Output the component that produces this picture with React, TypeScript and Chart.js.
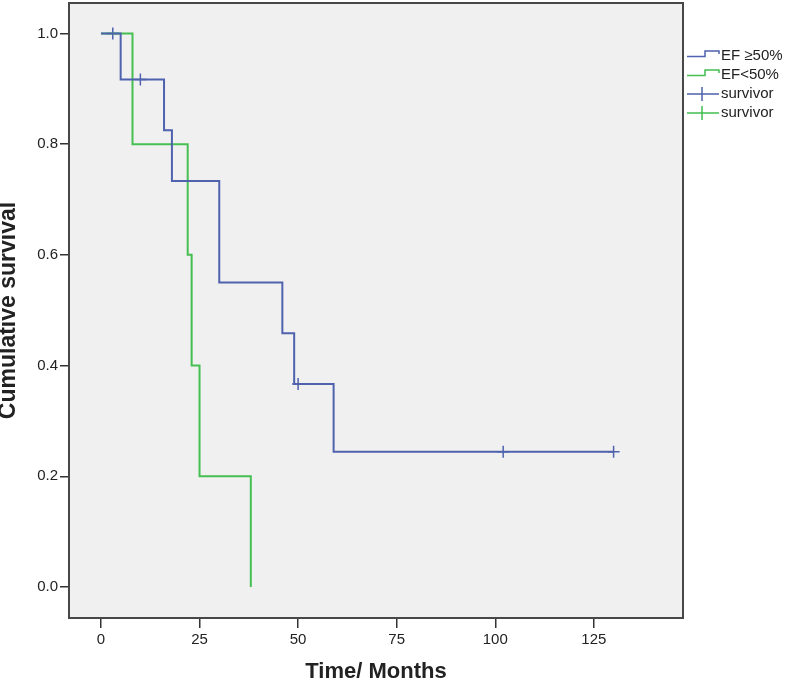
import React, { useEffect, useRef } from 'react';
import { Chart, registerables } from 'chart.js';

Chart.register(...registerables);

// ---- data ----
const seriesLabels = ['EF ≥50%', 'EF<50%'];
const censorLabels = ['survivor', 'survivor'];

const blueTimes = [0, 5, 16, 18, 30, 46, 49, 59, 130];
const blueSurv = [1, 0.9167, 0.825, 0.7333, 0.55, 0.4583, 0.3667, 0.2444, 0.2444];
const greenTimes = [0, 8, 22, 23, 25, 38];
const greenSurv = [1, 0.8, 0.6, 0.4, 0.2, 0];

const blueCensorTimes = [3, 10, 50, 102, 130];
const blueCensorSurv = [1, 0.9167, 0.3667, 0.2444, 0.2444];
const greenCensorTimes: number[] = [];
const greenCensorSurv: number[] = [];

const xTickStep = 25;
const yTickStep = 0.2;

const BLUE = '#4f62ae';
const GREEN = '#45bf51';

const pts = (xs: number[], ys: number[]) => xs.map((x, i) => ({ x, y: ys[i] }));

const framePlugin = {
  id: 'frameAndLegend',
  beforeDraw(chart: any) {
    const { ctx, chartArea: a } = chart;
    ctx.save();
    ctx.fillStyle = '#f0f0f0';
    ctx.fillRect(a.left, a.top, a.right - a.left, a.bottom - a.top);
    ctx.restore();
  },
  afterDraw(chart: any) {
    const { ctx, chartArea: a } = chart;
    ctx.save();
    ctx.strokeStyle = '#474747';
    ctx.lineWidth = 2;
    ctx.strokeRect(a.left, a.top, a.right - a.left, a.bottom - a.top);

    // legend
    const x0 = a.right + 4;
    let cy = 56;
    ctx.font = '15px "Liberation Sans", Arial, sans-serif';
    ctx.textBaseline = 'middle';
    ctx.textAlign = 'left';
    chart.data.datasets.forEach((ds: any) => {
      ctx.strokeStyle = ds.borderColor;
      ctx.lineWidth = 1.5;
      ctx.beginPath();
      if (ds.showLine === false) {
        ctx.moveTo(x0, cy);
        ctx.lineTo(x0 + 32, cy);
        ctx.moveTo(x0 + 15, cy - 7);
        ctx.lineTo(x0 + 15, cy + 7);
      } else {
        ctx.moveTo(x0, cy + 0.5);
        ctx.lineTo(x0 + 18, cy + 0.5);
        ctx.lineTo(x0 + 18, cy - 5);
        ctx.lineTo(x0 + 32, cy - 5);
        ctx.lineTo(x0 + 32, cy - 2);
      }
      ctx.stroke();
      ctx.fillStyle = '#222';
      ctx.fillText(ds.label, x0 + 34, cy);
      cy += 19;
    });
    ctx.restore();
  },
};

export default function App() {
  const ref = useRef<HTMLCanvasElement | null>(null);

  useEffect(() => {
    if (!ref.current) return;
    const tickFont = { family: '"Liberation Sans", Arial, sans-serif', size: 15 };
    const chart = new Chart(ref.current, {
      type: 'scatter',
      data: {
        datasets: [
          {
            label: seriesLabels[0],
            data: pts(blueTimes, blueSurv),
            showLine: true,
            stepped: 'before',
            borderColor: BLUE,
            borderWidth: 2,
            pointRadius: 0,
            fill: false,
          },
          {
            label: seriesLabels[1],
            data: pts(greenTimes, greenSurv),
            showLine: true,
            stepped: 'before',
            borderColor: GREEN,
            borderWidth: 2,
            pointRadius: 0,
            fill: false,
          },
          {
            label: censorLabels[0],
            data: pts(blueCensorTimes, blueCensorSurv),
            showLine: false,
            borderColor: BLUE,
            backgroundColor: BLUE,
            pointStyle: 'cross',
            pointRadius: 6,
            pointBorderWidth: 1.5,
          },
          {
            label: censorLabels[1],
            data: pts(greenCensorTimes, greenCensorSurv),
            showLine: false,
            borderColor: GREEN,
            backgroundColor: GREEN,
            pointStyle: 'cross',
            pointRadius: 6,
            pointBorderWidth: 1.5,
          },
        ],
      } as any,
      options: {
        responsive: false,
        animation: false,
        layout: { autoPadding: false, padding: { top: 3, right: 104, left: 0, bottom: 0 } },
        plugins: { legend: { display: false }, tooltip: { enabled: false } },
        scales: {
          x: {
            type: 'linear',
            min: -8.1,
            max: 147.6,
            afterFit: (s: any) => {
              s.height = 66;
              s.paddingLeft = 0;
              s.paddingRight = 0;
            },
            ticks: {
              stepSize: xTickStep,
              includeBounds: false,
              autoSkip: false,
              maxRotation: 0,
              padding: 3,
              color: '#222',
              font: tickFont,
            },
            grid: {
              drawOnChartArea: false,
              drawTicks: true,
              tickLength: 10,
              color: '#333',
              lineWidth: 1.5,
            },
            border: { display: false },
            title: {
              display: true,
              text: 'Time/ Months',
              color: '#222',
              font: { family: '"Liberation Sans", Arial, sans-serif', size: 22, weight: 'bold', lineHeight: 1 },
              padding: { top: 0, bottom: 1 },
            },
          },
          y: {
            type: 'linear',
            min: -0.056,
            max: 1.055,
            afterFit: (s: any) => {
              s.width = 69;
              s.paddingTop = 0;
              s.paddingBottom = 0;
            },
            ticks: {
              stepSize: yTickStep,
              includeBounds: false,
              autoSkip: false,
              padding: 2,
              color: '#222',
              font: tickFont,
              callback: (v: any) => Number(v).toFixed(1),
            },
            grid: {
              drawOnChartArea: false,
              drawTicks: true,
              tickLength: 9,
              color: '#333',
              lineWidth: 1.5,
            },
            border: { display: false },
            title: {
              display: true,
              text: 'Cumulative survival',
              color: '#222',
              font: { family: '"Liberation Sans", Arial, sans-serif', size: 23, weight: 'bold', lineHeight: 1 },
              padding: { top: -3, bottom: 0 },
            },
          },
        },
      } as any,
      plugins: [framePlugin],
    });
    return () => chart.destroy();
  }, []);

  return (
    <div style={{ position: 'absolute', left: 0, top: 0, width: 787, height: 684, background: '#fff' }}>
      <canvas ref={ref} width={787} height={684} />
    </div>
  );
}
